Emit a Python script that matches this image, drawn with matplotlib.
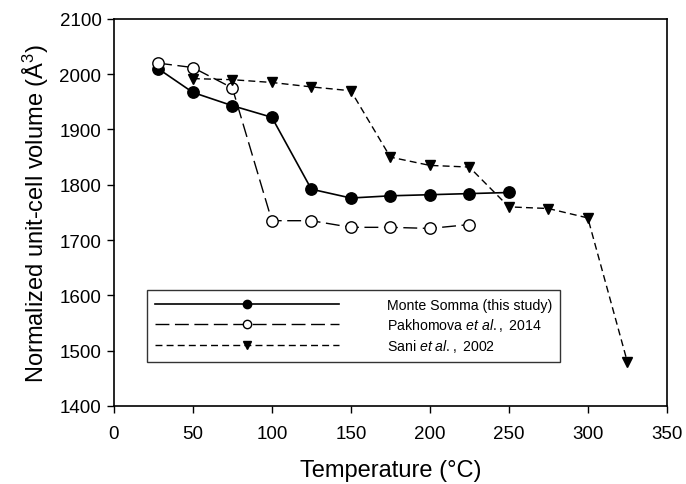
import matplotlib.pyplot as plt

plt.rcParams.update({
    "font.family": ["Liberation Sans", "DejaVu Sans"],
    "font.size": 12,
    "mathtext.fontset": "custom",
    "mathtext.rm": "Liberation Sans",
    "mathtext.it": "Liberation Sans:italic",
})

# ----- data -----
somma_t = [28, 50, 75, 100, 125, 150, 175, 200, 225, 250]
somma_v = [2010, 1967, 1943, 1922, 1792, 1776, 1780, 1782, 1784, 1786]

pakh_t = [28, 50, 75, 100, 125, 150, 175, 200, 225]
pakh_v = [2020, 2012, 1975, 1735, 1735, 1723, 1723, 1721, 1728]

sani_t = [50, 75, 100, 125, 150, 175, 200, 225, 250, 275, 300, 325]
sani_v = [1992, 1990, 1985, 1977, 1970, 1850, 1835, 1832, 1760, 1757, 1740, 1480]

x_ticks = [0, 50, 100, 150, 200, 250, 300, 350]
y_ticks = [1400, 1500, 1600, 1700, 1800, 1900, 2000, 2100]

labels = [
    "Monte Somma (this study)",
    r"$\mathrm{Pakhomova}\ \mathit{et\ al.}\mathrm{,\ 2014}$",
    r"$\mathrm{Sani}\ \mathit{et\ al.}\mathrm{,\ 2002}$",
]

# ----- figure -----
fig = plt.figure(figsize=(6.86, 4.85), dpi=100)
ax = fig.add_axes([0.166, 0.161, 0.806, 0.798])

ax.plot(somma_t, somma_v, color="black", lw=1.2, marker="o", ms=8.2,
        mfc="black", mec="black", label=labels[0])
ax.plot(pakh_t, pakh_v, color="black", lw=1.0, dashes=(10, 4), marker="o", ms=8.2,
        mfc="white", mec="black", mew=1.0, label=labels[1])
ax.plot(sani_t, sani_v, color="black", lw=1.0, dashes=(5, 3), marker="v", ms=7.5,
        mfc="black", mec="black", label=labels[2])

ax.set_xlim(0, 350)
ax.set_ylim(1400, 2100)
ax.set_xticks(x_ticks)
ax.set_yticks(y_ticks)
ax.tick_params(direction="out", length=5, width=1, labelsize=13.5,
               top=False, right=False)
ax.tick_params(axis="x", pad=9)
ax.tick_params(axis="y", pad=4)
for s in ax.spines.values():
    s.set_linewidth(1.2)

ax.set_xlabel("Temperature (°C)", fontsize=17, labelpad=12)
ax.set_ylabel("Normalized unit-cell volume (Å$^3$)", fontsize=17, labelpad=6)

leg = ax.legend(loc="lower left", bbox_to_anchor=(0.06, 0.114), borderaxespad=0,
                numpoints=1, handlelength=13, handletextpad=3.4, fontsize=10.2,
                frameon=True, fancybox=False, edgecolor="black",
                borderpad=0.55, labelspacing=0.3)
leg.get_frame().set_linewidth(1.0)
for h in leg.legend_handles:
    h.set_markersize(6)

fig.savefig("out.png", dpi=100, facecolor="white")
